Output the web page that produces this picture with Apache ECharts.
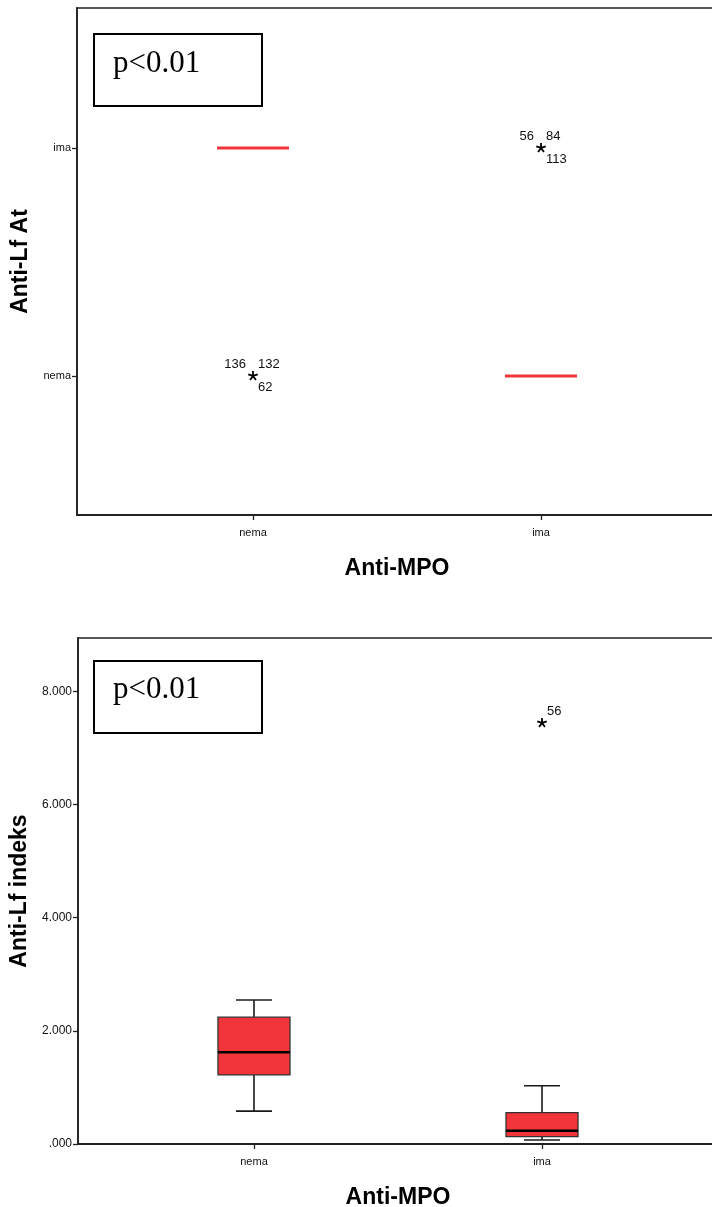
<!DOCTYPE html>
<html style="height: 100%">
<head>
    <meta charset="UTF-8">
    <title>Anti-MPO vs Anti-Lf</title>
    <script src="https://cdn.jsdelivr.net/npm/echarts/dist/echarts.min.js"></script>
</head>
<body style="height: 100%; margin: 0; background: #fff">
    <div id="main" style="width: 712px; height: 1207px"></div>
    <script type="text/javascript">
        // grupe na x osi (Anti-MPO), kodirane kao 1 i 2
        var categories = ['nema', 'ima'];
        // gornji graf: Anti-Lf At, y kodiran 1 = nema, 2 = ima
        var atLevels = ['nema', 'ima'];
        // [x, min, Q1, medijan, Q3, max]
        var atBox = [[1, 2, 2, 2, 2, 2], [2, 1, 1, 1, 1, 1]];
        // [x, y, oznake slucajeva]
        var atOutliers = [[1, 1, '136', '132', '62'], [2, 2, '56', '84', '113']];

        // donji graf: Anti-Lf indeks
        var indeksBox = [[1, 0.58, 1.22, 1.62, 2.24, 2.545], [2, 0.07, 0.13, 0.235, 0.553, 1.03]];
        var indeksOutliers = [[2, 7.44, '56']];
        var indeksTicks = [0, 2, 4, 6, 8];

        var RED = '#f2353b';
        var INK = '#1a1a1a';
        var HALF = 0.125;

        function boxItem(params, api) {
            var x = api.value(0);
            var mn = api.value(1), q1 = api.value(2), md = api.value(3), q3 = api.value(4), mx = api.value(5);
            if (q1 === q3) {
                var a = api.coord([x - HALF, md]), b = api.coord([x + HALF, md]);
                return { type: 'line', shape: { x1: a[0], y1: a[1], x2: b[0], y2: b[1] },
                    style: { stroke: RED, lineWidth: 3 } };
            }
            var tl = api.coord([x - HALF, q3]), br = api.coord([x + HALF, q1]);
            var c = api.coord([x, md]);
            var cl = api.coord([x - HALF / 2, 0])[0], cr = api.coord([x + HALF / 2, 0])[0];
            var yMin = api.coord([x, mn])[1], yMax = api.coord([x, mx])[1];
            var ws = { stroke: INK, lineWidth: 1.6 };
            return { type: 'group', children: [
                { type: 'line', shape: { x1: c[0], y1: yMax, x2: c[0], y2: tl[1] }, style: ws },
                { type: 'line', shape: { x1: c[0], y1: br[1], x2: c[0], y2: yMin }, style: ws },
                { type: 'line', shape: { x1: cl, y1: yMax, x2: cr, y2: yMax }, style: ws },
                { type: 'line', shape: { x1: cl, y1: yMin, x2: cr, y2: yMin }, style: ws },
                { type: 'rect', shape: { x: tl[0], y: tl[1], width: br[0] - tl[0], height: br[1] - tl[1] },
                    style: { fill: RED, stroke: '#333', lineWidth: 1.3 } },
                { type: 'line', shape: { x1: tl[0], y1: c[1], x2: br[0], y2: c[1] },
                    style: { stroke: '#000', lineWidth: 2.6 } }
            ] };
        }

        // zvjezdica + oznake slucajeva
        var labelPos = [[-7, -12, 'right'], [5, -12, 'left'], [5, 11, 'left']];
        function outlierItem(params, api) {
            var p = api.coord([api.value(0), api.value(1)]);
            var kids = [];
            for (var k = 0; k < 5; k++) {
                var ang = (-90 + k * 72) * Math.PI / 180;
                kids.push({ type: 'line', shape: { x1: p[0], y1: p[1],
                    x2: p[0] + 5 * Math.cos(ang), y2: p[1] + 5 * Math.sin(ang) },
                    style: { stroke: '#000', lineWidth: 1.8 } });
            }
            var n = 0;
            for (var i = 2; ; i++) {
                var t = api.value(i);
                if (t === undefined || t === null || t === '' || (typeof t === 'number' && isNaN(t))) break;
                n++;
            }
            for (var j = 0; j < n; j++) {
                var lp = n === 1 ? [5, -11, 'left'] : labelPos[j];
                kids.push({ type: 'text', x: p[0] + lp[0], y: p[1] + lp[1],
                    style: { text: String(api.value(2 + j)), fill: '#111', font: '13px Arial, "Liberation Sans", sans-serif',
                        align: lp[2], verticalAlign: 'middle' } });
            }
            return { type: 'group', children: kids };
        }

        var labelFont = { color: '#111', fontSize: 11, fontFamily: 'Arial, "Liberation Sans", sans-serif' };
        var nameFont = { color: '#000', fontSize: 23, fontWeight: 'bold', fontFamily: 'Arial, "Liberation Sans", sans-serif' };
        var axisLine = { show: true, onZero: false, lineStyle: { color: '#222', width: 1.8 } };
        var axisTick = { show: true, length: 5, lineStyle: { color: '#222', width: 1.3 } };

        function xAxisFor(gridIndex) {
            return {
                type: 'value', gridIndex: gridIndex, min: 0.389, max: 2.611,
                splitLine: { show: false }, axisLine: axisLine,
                axisTick: Object.assign({ customValues: [1, 2] }, axisTick),
                axisLabel: Object.assign({ customValues: [1, 2], margin: 12,
                    formatter: function (v) { return categories[Math.round(v) - 1]; } }, labelFont),
                name: 'Anti-MPO', nameLocation: 'middle', nameGap: 42, nameTextStyle: nameFont
            };
        }

        var chart = echarts.init(document.getElementById('main'));
        var option = {
            backgroundColor: '#fff',
            animation: false,
            grid: [
                { left: 77, top: 8, width: 640, height: 507, show: true, borderColor: '#222', borderWidth: 1.3,
                    containLabel: false, outerBoundsMode: 'none' },
                { left: 78, top: 638, width: 640, height: 506, show: true, borderColor: '#222', borderWidth: 1.3,
                    containLabel: false, outerBoundsMode: 'none' }
            ],
            xAxis: [xAxisFor(0), xAxisFor(1)],
            yAxis: [
                {
                    type: 'value', gridIndex: 0, min: 0.39, max: 2.614,
                    splitLine: { show: false }, axisLine: axisLine,
                    axisTick: Object.assign({ customValues: [1, 2] }, axisTick),
                    axisLabel: Object.assign({ customValues: [1, 2], margin: 6,
                        formatter: function (v) { return atLevels[Math.round(v) - 1]; } }, labelFont),
                    name: 'Anti-Lf At', nameLocation: 'middle', nameGap: 44, nameTextStyle: nameFont
                },
                {
                    type: 'value', gridIndex: 1, min: 0, max: 8.94,
                    splitLine: { show: false }, axisLine: axisLine,
                    axisTick: Object.assign({ customValues: indeksTicks }, axisTick),
                    axisLabel: Object.assign({ customValues: indeksTicks, margin: 6,
                        formatter: function (v) { return v === 0 ? '.000' : v.toFixed(3); } }, labelFont, { fontSize: 12 }),
                    name: 'Anti-Lf indeks', nameLocation: 'middle', nameGap: 43, nameTextStyle: nameFont
                }
            ],
            series: [
                { type: 'custom', xAxisIndex: 0, yAxisIndex: 0, renderItem: boxItem, data: atBox,
                    encode: { x: 0, y: [1, 2, 3, 4, 5] }, clip: false },
                { type: 'custom', xAxisIndex: 0, yAxisIndex: 0, renderItem: outlierItem, data: atOutliers,
                    encode: { x: 0, y: 1 }, clip: false },
                { type: 'custom', xAxisIndex: 1, yAxisIndex: 1, renderItem: boxItem, data: indeksBox,
                    encode: { x: 0, y: [1, 2, 3, 4, 5] }, clip: false },
                { type: 'custom', xAxisIndex: 1, yAxisIndex: 1, renderItem: outlierItem, data: indeksOutliers,
                    encode: { x: 0, y: 1 }, clip: false }
            ],
            graphic: [
                { type: 'rect', left: 93, top: 33, shape: { width: 168, height: 72 },
                    style: { fill: '#fff', stroke: '#000', lineWidth: 2 } },
                { type: 'text', left: 113, top: 48,
                    style: { text: 'p<0.01', fill: '#000', font: '31px "Times New Roman", "Liberation Serif", serif' } },
                { type: 'rect', left: 93, top: 660, shape: { width: 168, height: 72 },
                    style: { fill: '#fff', stroke: '#000', lineWidth: 2 } },
                { type: 'text', left: 113, top: 674,
                    style: { text: 'p<0.01', fill: '#000', font: '31px "Times New Roman", "Liberation Serif", serif' } }
            ]
        };
        chart.setOption(option);
    </script>
</body>
</html>
